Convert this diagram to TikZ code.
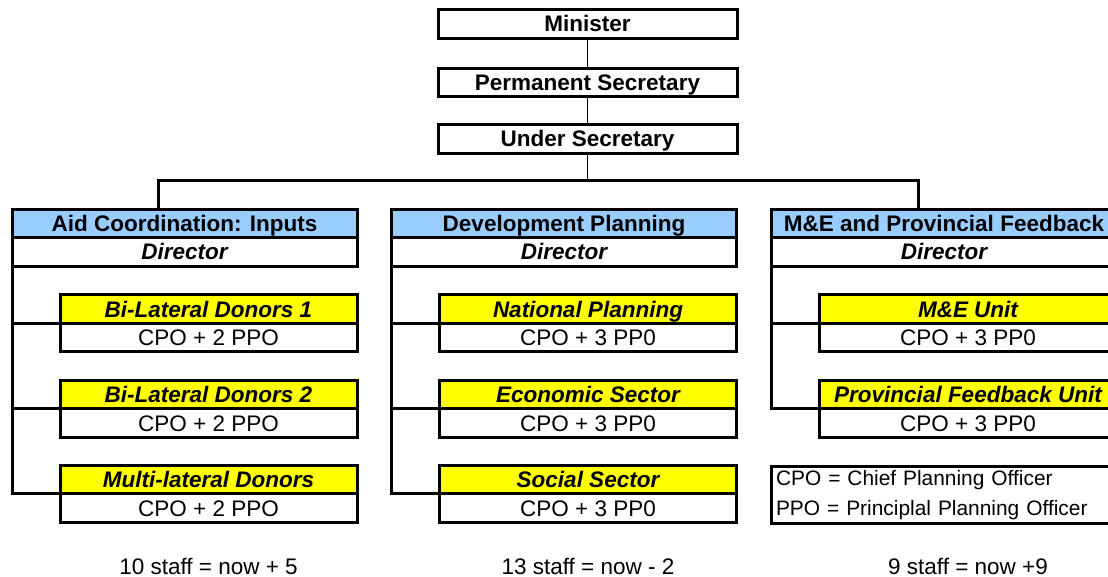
\documentclass[tikz,border=0pt]{standalone}
\usepackage{fontspec}
\setmainfont{Liberation Sans}
\usepackage{tikz}
\usetikzlibrary{positioning}
\definecolor{hdrblue}{HTML}{99CCFF}
\definecolor{unityellow}{HTML}{FFFF00}
\tikzset{every picture/.style={x=1pt,y=-1pt}}
\tikzset{
  box/.style={draw, line width=3pt, inner sep=0pt, outer sep=0pt,
    minimum height=28.5pt, text height=16pt, text depth=0pt,
    font=\fontsize{22.5}{27}\selectfont},
  topbox/.style={box, minimum width=299pt, font=\fontsize{22.5}{27}\selectfont\bfseries},
  headbox/.style={box, fill=hdrblue, minimum width=345pt, font=\fontsize{22.5}{27}\selectfont\bfseries},
  dirbox/.style={box, fill=white, minimum width=345pt, font=\fontsize{22.5}{27}\selectfont\bfseries\itshape},
  unitbox/.style={box, fill=unityellow, minimum width=297pt, font=\fontsize{22.5}{27}\selectfont\bfseries\itshape},
  staffbox/.style={box, fill=white, minimum width=297pt},
  thinline/.style={draw, line width=1pt},
  thickline/.style={draw, line width=3pt},
  note/.style={font=\fontsize{22.5}{27}\selectfont}
}

\begin{document}
\begin{tikzpicture}
    \useasboundingbox (0,0) rectangle (1108,577);
    \clip (0,0) rectangle (1108,577);
    % top of the hierarchy
    \node[topbox] (min) at (587.5,24) {Minister};
    \node[topbox] (ps) at (587.5,82.5) {Permanent Secretary};
    \node[topbox] (us) at (587.5,139) {Under Secretary};
    \coordinate (bus) at (587.5,180.5);
    \draw[thinline] (min) -- (ps);
    \draw[thinline] (ps) -- (us);
    \draw[thinline] (us) -- (bus);

    % Aid Coordination
    \node[headbox] (hdr1) at (184.5,223.5) {Aid Coordination: Inputs};
    \node[dirbox, below=0pt of hdr1] (dir1) {Director};
    \node[unitbox] (u11) at (208.5,309) {Bi-Lateral Donors 1};
    \node[staffbox, below=0pt of u11] (s11) {CPO + 2 PPO};
    \node[unitbox] (u12) at (208.5,394.5) {Bi-Lateral Donors 2};
    \node[staffbox, below=0pt of u12] (s12) {CPO + 2 PPO};
    \node[unitbox] (u13) at (208.5,479.5) {Multi-lateral Donors};
    \node[staffbox, below=0pt of u13] (s13) {CPO + 2 PPO};

    % Development Planning
    \node[headbox] (hdr2) at (564,223.5) {Development Planning};
    \node[dirbox, below=0pt of hdr2] (dir2) {Director};
    \node[unitbox] (u21) at (588,309) {National Planning};
    \node[staffbox, below=0pt of u21] (s21) {CPO + 3 PP0};
    \node[unitbox] (u22) at (588,394.5) {Economic Sector};
    \node[staffbox, below=0pt of u22] (s22) {CPO + 3 PP0};
    \node[unitbox] (u23) at (588,479.5) {Social Sector};
    \node[staffbox, below=0pt of u23] (s23) {CPO + 3 PP0};

    % M&E and Provincial Feedback
    \node[headbox] (hdr3) at (944,223.5) {M\&E and Provincial Feedback};
    \node[dirbox, below=0pt of hdr3] (dir3) {Director};
    \node[unitbox] (u31) at (968,309) {M\&E Unit};
    \node[staffbox, below=0pt of u31] (s31) {CPO + 3 PP0};
    \node[unitbox] (u32) at (968,394.5) {Provincial Feedback Unit};
    \node[staffbox, below=0pt of u32] (s32) {CPO + 3 PP0};

    % key
    \node[box, anchor=north west, minimum width=346pt, minimum height=57pt,
      text height=, text depth=, align=left, text width=336pt, inner xsep=5pt,
      inner ysep=0pt, font=\fontsize{20.9}{30}\selectfont] (key) at (771,466)
      {\rule{0pt}{17pt}CPO = Chief Planning Officer\\PPO = Principlal Planning Officer};

    % staff totals
    \node[note] (tot1) at (208.5,566) {10 staff = now + 5};
    \node[note] (tot2) at (588,566) {13 staff = now - 2};
    \node[note] (tot3) at (968,566) {9 staff = now +9};

    % bus to the divisions
    \coordinate (drop1) at (158,209);
    \coordinate (drop3) at (918,209);
    \draw[thickline] (drop1) |- (bus) -| (drop3);

    % spines
    \draw[thickline] (dir1.south west) |- (u13.south west);
    \draw[thickline] (dir1.south west |- u11.south west) -- (u11.south west);
    \draw[thickline] (dir1.south west |- u12.south west) -- (u12.south west);
    \draw[thickline] (dir2.south west) |- (u23.south west);
    \draw[thickline] (dir2.south west |- u21.south west) -- (u21.south west);
    \draw[thickline] (dir2.south west |- u22.south west) -- (u22.south west);
    \draw[thickline] (dir3.south west) |- (u32.south west);
    \draw[thickline] (dir3.south west |- u31.south west) -- (u31.south west);
\end{tikzpicture}
\end{document}
